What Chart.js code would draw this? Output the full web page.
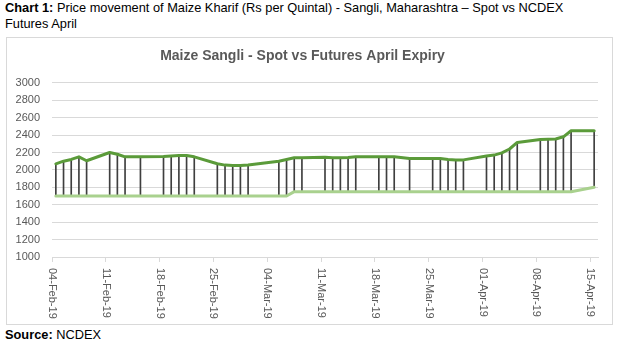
<!DOCTYPE html>
<html lang="en">
<head>
    <meta charset="UTF-8">
    <title>Maize Sangli - Spot vs Futures April Expiry</title>
    <script src="https://cdn.jsdelivr.net/npm/chart.js"></script>
    <style>
        body {
            margin: 0;
            width: 619px;
            height: 345px;
            background: #ffffff;
            font-family: 'Liberation Sans', Arial, sans-serif;
            color: #000;
            position: relative;
            overflow: hidden;
        }
        .caption {
            position: absolute;
            left: 5px;
            top: 0;
            font-size: 12.8px;
            line-height: 16px;
            white-space: nowrap;
        }
        .chart-box {
            position: absolute;
            left: 6px;
            top: 37px;
            width: 605px;
            height: 286px;
            border: 1px solid #d9d9d9;
        }
        .source {
            position: absolute;
            left: 5px;
            top: 327px;
            font-size: 12.8px;
            line-height: 16px;
        }
    </style>
</head>
<body>
    <div class="caption"><b>Chart 1:</b> Price movement of Maize Kharif (Rs per Quintal) - Sangli, Maharashtra – Spot vs NCDEX<br>Futures April</div>
    <div class="chart-box">
        <canvas id="maizeChart" width="605" height="286"></canvas>
    </div>
    <div class="source"><b>Source:</b> NCDEX</div>

    <script>
        // trading days shown in the chart
        const DATES = [
            '04-Feb-19', '05-Feb-19', '06-Feb-19', '07-Feb-19', '08-Feb-19',
            '11-Feb-19', '12-Feb-19', '13-Feb-19', '15-Feb-19',
            '18-Feb-19', '19-Feb-19', '20-Feb-19', '21-Feb-19', '22-Feb-19',
            '25-Feb-19', '26-Feb-19', '27-Feb-19', '28-Feb-19', '01-Mar-19',
            '05-Mar-19', '06-Mar-19', '07-Mar-19', '08-Mar-19',
            '11-Mar-19', '12-Mar-19', '13-Mar-19', '14-Mar-19', '15-Mar-19',
            '18-Mar-19', '19-Mar-19', '20-Mar-19', '22-Mar-19',
            '25-Mar-19', '26-Mar-19', '27-Mar-19', '28-Mar-19', '29-Mar-19',
            '01-Apr-19', '02-Apr-19', '03-Apr-19', '04-Apr-19', '05-Apr-19',
            '08-Apr-19', '09-Apr-19', '10-Apr-19', '11-Apr-19', '12-Apr-19',
            '15-Apr-19'
        ];
        // NCDEX April futures (Rs/qtl)
        const FUTURES = [
            2070, 2100, 2120, 2150, 2105,
            2200, 2180, 2150, 2150,
            2155, 2160, 2165, 2165, 2150,
            2070, 2055, 2050, 2050, 2055,
            2100, 2120, 2140, 2140,
            2145, 2140, 2140, 2142, 2150,
            2150, 2150, 2150, 2130,
            2130, 2130, 2120, 2115, 2115,
            2160, 2170, 2195, 2240, 2315,
            2350, 2352, 2355, 2380, 2450,
            2450
        ];
        // Sangli spot (Rs/qtl)
        const SPOT = [
            1700, 1700, 1700, 1700, 1700,
            1700, 1700, 1700, 1700,
            1700, 1700, 1700, 1700, 1700,
            1700, 1700, 1700, 1700, 1700,
            1700, 1700, 1750, 1750,
            1750, 1750, 1750, 1750, 1750,
            1750, 1750, 1750, 1750,
            1750, 1750, 1750, 1750, 1750,
            1750, 1750, 1750, 1750, 1750,
            1750, 1750, 1750, 1750, 1750,
            1800
        ];
        const TICK_LABELS = [
            '04-Feb-19', '11-Feb-19', '18-Feb-19', '25-Feb-19', '04-Mar-19', '11-Mar-19',
            '18-Mar-19', '25-Mar-19', '01-Apr-19', '08-Apr-19', '15-Apr-19'
        ];
        const Y_MIN = 1000;
        const Y_MAX = 3000;
        const Y_STEP = 200;

        const MONTHS = ['Jan', 'Feb', 'Mar', 'Apr', 'May', 'Jun', 'Jul', 'Aug', 'Sep', 'Oct', 'Nov', 'Dec'];
        const START = DATES[0];

        function toUTC(label) {
            const [d, m, y] = label.split('-');
            return Date.UTC(2000 + Number(y), MONTHS.indexOf(m), Number(d));
        }
        // days since the first date; each day is one slot on the axis
        function dayOf(label) {
            return Math.round((toUTC(label) - toUTC(START)) / 86400000);
        }

        const LAST_DAY = dayOf(DATES[DATES.length - 1]);
        const GREY_TEXT = '#595959';
        const GRID = '#d9d9d9';

        // draws the date labels turned 90deg clockwise, like Excel does
        const dateLabels = {
            id: 'dateLabels',
            afterDraw(chart) {
                const xs = chart.scales.x;
                const ctx = chart.ctx;
                ctx.save();
                ctx.font = '11px "Liberation Sans", Arial, sans-serif';
                ctx.fillStyle = GREY_TEXT;
                ctx.textAlign = 'left';
                ctx.textBaseline = 'middle';
                TICK_LABELS.forEach(label => {
                    const x = xs.getPixelForValue(dayOf(label));
                    ctx.save();
                    ctx.translate(x, xs.top + 11);
                    ctx.rotate(Math.PI / 2);
                    ctx.fillText(label, 0, 0);
                    ctx.restore();
                });
                ctx.restore();
            }
        };

        const ctx = document.getElementById('maizeChart').getContext('2d');
        new Chart(ctx, {
            type: 'line',
            data: {
                datasets: [
                    {
                        label: 'Futures',
                        data: DATES.map((d, i) => ({ x: dayOf(d) + 0.5, y: FUTURES[i] })),
                        borderColor: '#5b9b3a',
                        borderWidth: 3,
                        pointRadius: 0,
                        tension: 0,
                        borderJoinStyle: 'round',
                        borderCapStyle: 'round',
                        order: 0
                    },
                    {
                        label: 'Spot',
                        data: DATES.map((d, i) => ({ x: dayOf(d) + 0.5, y: SPOT[i] })),
                        borderColor: '#a9d18e',
                        borderWidth: 3,
                        pointRadius: 0,
                        tension: 0,
                        borderJoinStyle: 'round',
                        borderCapStyle: 'round',
                        order: 1
                    },
                    {
                        // high-low lines between spot and futures
                        type: 'bar',
                        label: 'Spread',
                        data: DATES.map((d, i) => ({ x: dayOf(d) + 0.5, y: [SPOT[i], FUTURES[i]] })),
                        backgroundColor: '#3f3f3f',
                        borderWidth: 0,
                        barThickness: 1,
                        grouped: false,
                        order: 2
                    }
                ]
            },
            options: {
                responsive: false,
                animation: false,
                devicePixelRatio: 1,
                layout: { padding: { left: 0, right: 14, top: 0, bottom: 0 } },
                plugins: {
                    legend: { display: false },
                    tooltip: { enabled: false },
                    title: {
                        display: true,
                        text: 'Maize Sangli - Spot vs Futures April Expiry',
                        color: GREY_TEXT,
                        font: { family: '"Liberation Sans", Arial, sans-serif', size: 14, weight: 'bold', lineHeight: 1.2 },
                        padding: { top: 10, bottom: 18 }
                    }
                },
                scales: {
                    x: {
                        type: 'linear',
                        min: 0,
                        max: LAST_DAY + 1,
                        offset: false,
                        afterBuildTicks: axis => {
                            axis.ticks = TICK_LABELS.map(l => ({ value: dayOf(l) }));
                        },
                        afterFit: axis => { axis.height = 67; },
                        ticks: { display: false },
                        grid: {
                            drawOnChartArea: false,
                            drawTicks: true,
                            tickLength: 5,
                            color: GRID,
                            offset: false
                        },
                        border: { display: true, color: GRID }
                    },
                    y: {
                        min: Y_MIN,
                        max: Y_MAX,
                        afterFit: axis => { axis.width = 45; },
                        ticks: {
                            stepSize: Y_STEP,
                            padding: 12,
                            color: GREY_TEXT,
                            font: { family: '"Liberation Sans", Arial, sans-serif', size: 11 },
                            callback: v => String(v)
                        },
                        grid: { color: GRID, drawTicks: false },
                        border: { display: false }
                    }
                }
            },
            plugins: [dateLabels]
        });
    </script>
</body>
</html>
